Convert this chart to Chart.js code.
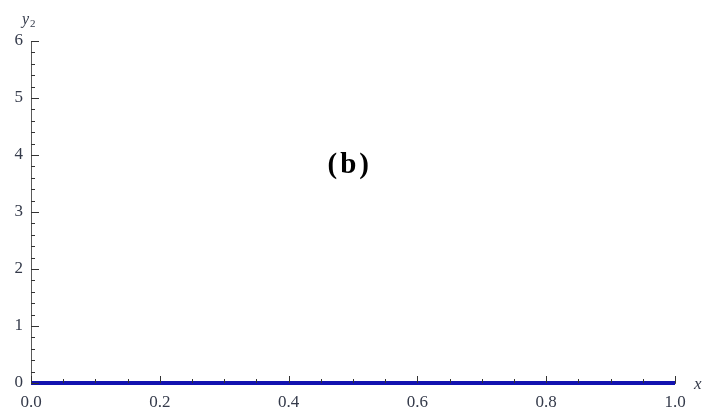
<!DOCTYPE html>
<html>
<head>
<meta charset="utf-8">
<script src="https://cdn.jsdelivr.net/npm/chart.js@4"></script>
<style>
  html, body { margin: 0; padding: 0; background: #fff; }
  #wrap { width: 704px; height: 410px; position: relative; }
</style>
</head>
<body>
<div id="wrap"><canvas id="plotB"></canvas></div>
<script>
// y2(x): flat at zero over the whole range
const xValues = [0, 0.25, 0.5, 0.75, 1];
const y2Values = [0, 0, 0, 0, 0];

const xTicks = [0, 0.2, 0.4, 0.6, 0.8, 1.0];
const yTicks = [0, 1, 2, 3, 4, 5, 6];
const xMinorStep = 0.05;
const yMinorStep = 0.2;

const serif = "'Liberation Serif', 'DejaVu Serif', serif";
const labelColor = "#343a4a";
const axisColor = "#5a5a5a";

const points = xValues.map((x, i) => ({ x: x, y: y2Values[i] }));

// Mathematica-style inward ticks, axis labels and the panel tag
const frameMarks = {
    id: "frameMarks",
    afterDraw(chart) {
        const { ctx, scales } = chart;
        const xs = scales.x, ys = scales.y;
        const x0 = xs.getPixelForValue(0);
        const y0 = ys.getPixelForValue(0);
        ctx.save();
        ctx.strokeStyle = "#333";
        ctx.lineWidth = 1;
        ctx.beginPath();
        for (let v = 0; v <= 6.0001; v += yMinorStep) {
            const major = Math.abs(v - Math.round(v)) < 1e-6;
            const py = Math.round(ys.getPixelForValue(v)) + 0.5;
            ctx.moveTo(x0, py);
            ctx.lineTo(x0 + (major ? 8 : 4), py);
        }
        for (let v = 0; v <= 1.0001; v += xMinorStep) {
            const major = Math.abs(v * 5 - Math.round(v * 5)) < 1e-6;
            const px = Math.round(xs.getPixelForValue(v)) + 0.5;
            ctx.moveTo(px, y0);
            ctx.lineTo(px, y0 - (major ? 7 : 4));
        }
        ctx.stroke();

        ctx.fillStyle = "#000";
        ctx.textAlign = "center";
        ctx.textBaseline = "alphabetic";
        ctx.font = "bold 29px " + serif;
        ctx.letterSpacing = "3px";
        ctx.fillText("(b)", xs.getPixelForValue(0.495), ys.getPixelForValue(3.68));
        ctx.letterSpacing = "0px";

        ctx.fillStyle = labelColor;
        ctx.textAlign = "left";
        ctx.font = "italic 16px " + serif;
        ctx.fillText("y", 22, 24);
        ctx.font = "11px " + serif;
        ctx.fillText("2", 30, 27);
        ctx.font = "italic 17px " + serif;
        ctx.fillText("x", 694, 389);
        ctx.restore();
    },
};

new Chart(document.getElementById("plotB"), {
    type: "scatter",
    data: {
        datasets: [
            {
                label: "y2",
                data: points,
                showLine: true,
                borderColor: "#1212b0",
                borderWidth: 4,
                pointRadius: 0,
                clip: false,
            },
        ],
    },
    options: {
        responsive: true,
        maintainAspectRatio: false,
        animation: false,
        layout: { padding: { top: 41, right: 29, left: 0, bottom: 0 } },
        plugins: {
            legend: { display: false },
            tooltip: { enabled: false },
        },
        scales: {
            x: {
                type: "linear",
                min: 0,
                max: 1,
                afterFit(scale) { scale.height = 27; },
                afterBuildTicks(scale) { scale.ticks = xTicks.map(v => ({ value: v })); },
                grid: { display: false },
                border: { display: true, color: axisColor, width: 1 },
                ticks: {
                    padding: 1,
                    color: labelColor,
                    font: { family: serif, size: 17 },
                    maxRotation: 0,
                    callback: v => v.toFixed(1),
                },
            },
            y: {
                type: "linear",
                min: 0,
                max: 6,
                afterFit(scale) { scale.width = 31; },
                afterBuildTicks(scale) { scale.ticks = yTicks.map(v => ({ value: v })); },
                grid: { display: false },
                border: { display: true, color: axisColor, width: 1 },
                ticks: {
                    padding: 0,
                    color: labelColor,
                    font: { family: serif, size: 17 },
                    callback: v => String(v),
                },
            },
        },
    },
    plugins: [frameMarks],
});
</script>
</body>
</html>
